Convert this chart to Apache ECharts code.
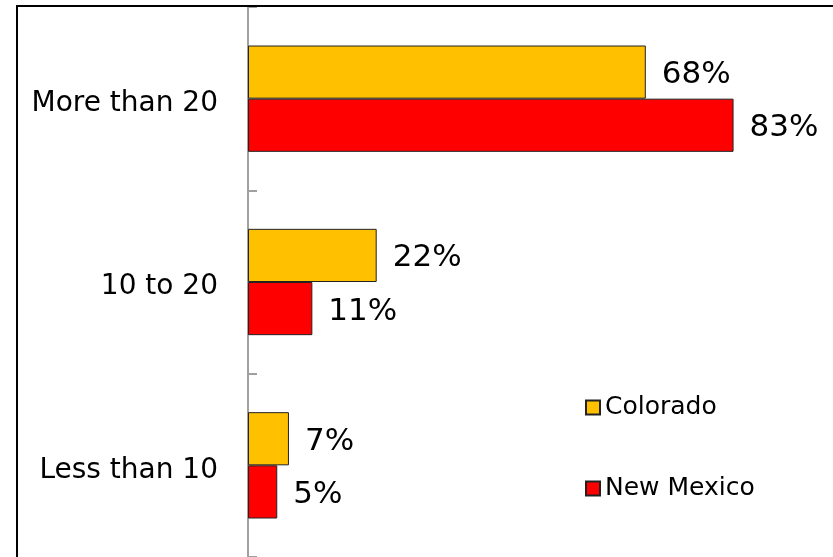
<!DOCTYPE html>
<html><head><meta charset="utf-8">
<script src="https://cdn.jsdelivr.net/npm/echarts@6/dist/echarts.min.js"></script>
<style>html,body{margin:0;padding:0;background:#fff}#c{width:833px;height:557px}</style>
</head><body><div id="c"></div>
<script>
var categories = ['Less than 10', '10 to 20', 'More than 20'];
var colorado = [7, 22, 68];
var newMexico = [5, 11, 83];
var seriesNames = ['Colorado', 'New Mexico'];
var FONT = 'DejaVu Sans';
var chart = echarts.init(document.getElementById('c'));
var lbl = {show: true, position: 'right', distance: 16, offset: [0, 3], formatter: '{c}%', color: '#000', fontSize: 31, fontFamily: FONT};
chart.setOption({
  animation: false,
  graphic: [{type: 'rect', shape: {x: 17, y: 6, width: 830, height: 570}, style: {fill: 'none', stroke: '#000', lineWidth: 2}, z: 100}],
  legend: {
    orient: 'vertical', left: 580, top: 390, itemGap: 56, itemWidth: 14, itemHeight: 14, icon: 'rect',
    textStyle: {fontSize: 25, fontFamily: FONT, color: '#000'},
    data: seriesNames
  },
  grid: {left: 248, right: 0, top: 7, bottom: -2, containLabel: false},
  xAxis: {type: 'value', min: 0, max: 100, show: false},
  yAxis: {
    type: 'category', data: categories,
    axisLine: {show: true, lineStyle: {color: '#a0a0a0', width: 2}},
    axisTick: {show: true, inside: true, length: 9, alignWithLabel: false, lineStyle: {color: '#a0a0a0', width: 2}},
    axisLabel: {fontSize: 28, fontFamily: FONT, color: '#000', margin: 30,
      formatter: function (v) { return '{a|' + v + '}'; },
      rich: {a: {fontSize: 28, fontFamily: FONT, color: '#000', padding: [10, 0, 0, 0]}}}
  },
  series: [
    {name: seriesNames[0], type: 'bar', data: colorado, barGap: '0%', barCategoryGap: '42%',
     itemStyle: {color: '#FFC000', borderColor: '#222', borderWidth: 1}, label: lbl},
    {name: seriesNames[1], type: 'bar', data: newMexico, barGap: '0%', barCategoryGap: '42%',
     itemStyle: {color: '#FF0000', borderColor: '#222', borderWidth: 1}, label: lbl}
  ]
});
</script></body></html>
